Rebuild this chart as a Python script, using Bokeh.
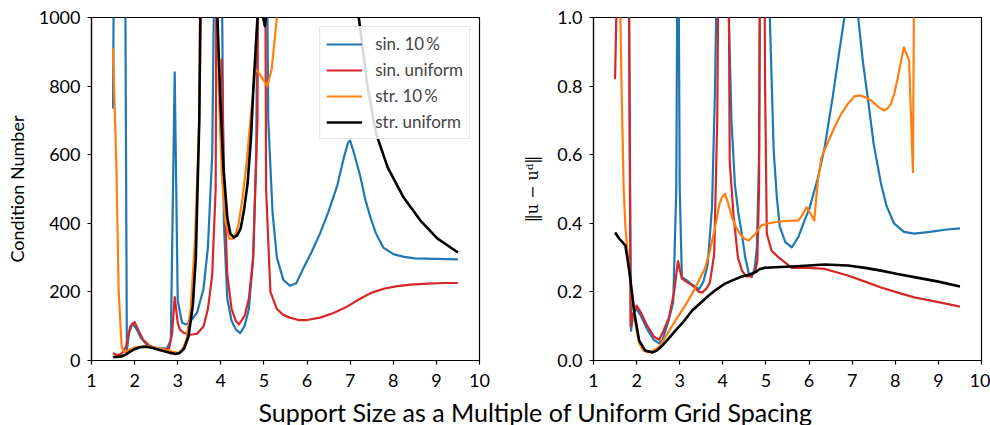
import numpy as np
from bokeh.plotting import figure
from bokeh.layouts import column, row
from bokeh.models import (Range1d, FixedTicker, PrintfTickFormatter, Legend,
                          LegendItem, Label)
from bokeh.embed import file_html
from bokeh.resources import INLINE

nan = float("nan")

# ---------------- data: condition number (left) ----------------
cn_sin10_x = [1.5, 1.6, 1.72, 1.82, 1.87, 1.95, 2.05, 2.15, 2.3, 2.5, 2.75, 2.84, 2.93, 3.0, 3.1,
              3.2, 3.3, 3.45, 3.6, 3.7, 3.8, 3.88, 3.95, 4.0, 4.07, 4.15, 4.25, 4.35, 4.45, 4.55,
              4.65, 4.75, 4.82, 4.88, 4.95, 5.05, 5.1, 5.2, 5.3, 5.45, 5.6, 5.75, 5.9, 6.1, 6.3,
              6.5, 6.7, 6.85, 6.95, 7.0, 7.1, 7.24, 7.35, 7.47, 7.6, 7.77, 8.0, 8.25, 8.5, 9.0, 9.5]
cn_sin10_y = [735, 3000, 3000, 30, 80, 108, 90, 65, 44, 36, 35, 60, 840, 175, 110,
              105, 115, 140, 210, 330, 600, 1500, 3000, 1500, 400, 180, 115, 90, 80, 100,
              150, 300, 600, 1500, 3000, 1500, 700, 430, 300, 235, 218, 225, 265, 315, 370,
              435, 510, 590, 635, 641, 600, 534, 470, 417, 370, 329, 310, 302, 298, 296, 295]

cn_sinu_x = [1.5, 1.6, 1.7, 1.8, 1.9, 2.0, 2.1, 2.2, 2.35, 2.5, 2.65, 2.8, 2.87, 2.93, 3.0,
             3.05, 3.15, 3.3, 3.45, 3.6, 3.7, 3.8, 3.88, 3.95, 3.98, 4.02, 4.08, 4.15, 4.25,
             4.35, 4.42, 4.55, 4.65, 4.75, 4.85, 4.92, 4.98, 5.05, 5.15, 5.3, 5.45, 5.6, 5.8,
             6.0, 6.3, 6.6, 6.9, 7.2, 7.5, 7.8, 8.1, 8.4, 8.8, 9.2, 9.5]
cn_sinu_y = [22, 15, 20, 40, 100, 112, 85, 60, 42, 35, 30, 35, 80, 185, 110,
             90, 80, 75, 78, 100, 150, 250, 500, 3000, nan, 880, 500, 250, 150,
             115, 105, 130, 180, 300, 700, 3000, 3000, 500, 200, 150, 133, 125, 118,
             118, 125, 138, 155, 178, 198, 210, 217, 221, 224, 226, 226]

cn_str10_x = [1.5, 1.58, 1.63, 1.7, 1.75, 1.8, 1.9, 2.0, 2.2, 2.4, 2.6, 2.8, 3.0, 3.1, 3.2,
              3.3, 3.4, 3.5, 3.6, 3.7, 3.8, 3.88, 3.95, 4.02, 4.1, 4.2, 4.3, 4.4, 4.5, 4.6,
              4.7, 4.8, 4.9, 5.0, 5.08, 5.18, 5.3, 5.5, 7.0, 9.5]
cn_str10_y = [910, 550, 200, 40, 25, 25, 32, 38, 42, 40, 35, 28, 22, 30, 60,
              150, 350, 700, 1500, 3000, 3000, 1500, 800, 550, 410, 355, 355, 390, 470, 580,
              720, 850, 835, 815, 800, 850, 1000, 1500, 2500, 2500]

cn_stru_x = [1.5, 1.6, 1.7, 1.8, 1.9, 2.0, 2.1, 2.25, 2.4, 2.6, 2.8, 2.95, 3.05, 3.15, 3.25,
             3.35, 3.42, 3.5, 3.56, 3.65, 3.8, 3.86, 3.92, 3.99, 4.06, 4.15, 4.22, 4.3, 4.38,
             4.46, 4.54, 4.62, 4.7, 4.76, 4.85, 4.95, 5.02, 5.08, 5.2, 6.0, 6.5, 7.0, 7.2,
             7.4, 7.6, 7.87, 8.24, 8.63, 9.02, 9.5]
cn_stru_y = [10, 10, 12, 18, 26, 33, 38, 40, 37, 30, 23, 19, 22, 35, 70,
             160, 300, 700, 1500, 3000, 3000, 1500, 1000, 758, 563, 417, 370, 359, 365,
             385, 440, 516, 650, 807, 1000, 1020, 975, 1030, 1300, 3000, 2500, 1300, 1000,
             800, 662, 563, 475, 408, 356, 315]

# ---------------- data: error norm (right) ----------------
er_sin10_x = [1.5, 1.8, 1.87, 1.93, 2.0, 2.1, 2.25, 2.4, 2.52, 2.6, 2.75, 2.85, 2.92, 2.96,
              3.0, 3.05, 3.15, 3.3, 3.45, 3.55, 3.65, 3.75, 3.82, 3.88, 4.0, 4.1, 4.2, 4.28,
              4.36, 4.44, 4.52, 4.6, 4.67, 4.74, 4.79, 4.84, 4.88, 5.0, 5.09, 5.18, 5.25, 5.32,
              5.45, 5.6, 5.75, 5.9, 6.0, 6.2, 6.36, 6.55, 6.7, 6.82, 7.0, 7.14, 7.25, 7.37,
              7.5, 7.67, 7.8, 7.97, 8.2, 8.44, 8.8, 9.2, 9.5]
er_sin10_y = [1.5, 1.5, 0.087, 0.14, 0.15, 0.13, 0.09, 0.06, 0.05, 0.06, 0.12, 0.17, 0.5, 1.5,
              0.5, 0.243, 0.235, 0.22, 0.208, 0.23, 0.28, 0.45, 0.8, 1.3, 1.5, 1.2, 0.7, 0.513,
              0.43, 0.37, 0.3, 0.255, 0.243, 0.27, 0.33, 0.6, 1.5, 1.5, 1.0, 0.61, 0.48, 0.39,
              0.345, 0.33, 0.36, 0.41, 0.44, 0.53, 0.62, 0.77, 0.9, 1.0, 1.1, 1.0, 0.87, 0.758,
              0.63, 0.515, 0.45, 0.4, 0.375, 0.37, 0.375, 0.382, 0.385]

er_sinu_x = [1.5, 1.56, 1.6, 1.75, 1.82, 1.86, 1.9, 2.0, 2.1, 2.25, 2.4, 2.52, 2.6, 2.75,
             2.87, 2.96, 3.05, 3.15, 3.29, 3.45, 3.52, 3.62, 3.7, 3.8, 3.87, 3.92, 4.12, 4.16,
             4.25, 4.35, 4.45, 4.55, 4.65, 4.75, 4.8, 4.84, 4.87, 4.95, 4.98, 5.02, 5.13, 5.3,
             5.6, 6.0, 6.36, 6.9, 7.3, 7.67, 8.0, 8.44, 9.0, 9.5]
er_sinu_y = [0.82, 1.2, 1.5, 1.5, 1.2, 0.1, 0.13, 0.16, 0.14, 0.1, 0.07, 0.06, 0.08, 0.125,
             0.2, 0.29, 0.239, 0.23, 0.219, 0.2, 0.198, 0.21, 0.227, 0.31, 0.7, 1.5, 1.5, 0.58,
             0.42, 0.3, 0.26, 0.245, 0.245, 0.26, 0.29, 0.5, 1.5, 1.5, 0.8, 0.37, 0.32, 0.3,
             0.27, 0.27, 0.267, 0.248, 0.23, 0.213, 0.2, 0.184, 0.17, 0.157]

er_str10_x = [1.5, 1.6, 1.65, 1.7, 1.74, 1.82, 1.9, 1.98, 2.06, 2.15, 2.25, 2.4, 2.52, 2.7,
              2.9, 3.1, 3.29, 3.45, 3.59, 3.7, 3.82, 3.92, 3.98, 4.05, 4.12, 4.21, 4.3, 4.4,
              4.5, 4.6, 4.68, 4.75, 4.9, 5.05, 5.2, 5.4, 5.6, 5.75, 5.85, 5.94, 6.03, 6.12,
              6.2, 6.29, 6.45, 6.59, 6.75, 6.9, 7.05, 7.17, 7.3, 7.44, 7.6, 7.74, 7.82, 7.9,
              7.98, 8.06, 8.2, 8.32, 8.41, 8.44, 8.6, 9.5]
er_str10_y = [1.5, 1.2, 0.8, 0.5, 0.388, 0.27, 0.175, 0.1, 0.05, 0.03, 0.024, 0.03, 0.039, 0.075,
              0.117, 0.155, 0.195, 0.235, 0.27, 0.32, 0.388, 0.455, 0.476, 0.486, 0.46, 0.418, 0.39, 0.369,
              0.355, 0.35, 0.36, 0.369, 0.394, 0.4, 0.403, 0.406, 0.408, 0.408, 0.425, 0.447, 0.43, 0.408,
              0.52, 0.593, 0.64, 0.68, 0.72, 0.748, 0.77, 0.773, 0.768, 0.758, 0.74, 0.729, 0.735, 0.748,
              0.78, 0.826, 0.913, 0.875, 0.549, 1.2, 1.5, 1.5]

er_stru_x = [1.5, 1.6, 1.67, 1.74, 1.83, 1.95, 2.06, 2.2, 2.36, 2.48, 2.6, 2.75, 2.9, 3.1,
             3.29, 3.5, 3.68, 3.85, 4.05, 4.25, 4.44, 4.6, 4.75, 4.85, 4.95, 5.2, 5.6, 6.0,
             6.36, 6.9, 7.3, 7.67, 8.05, 8.44, 9.0, 9.5]
er_stru_y = [0.373, 0.355, 0.345, 0.335, 0.262, 0.137, 0.058, 0.029, 0.023, 0.03, 0.044, 0.065, 0.087, 0.115,
             0.146, 0.17, 0.19, 0.207, 0.224, 0.235, 0.245, 0.25, 0.257, 0.266, 0.27, 0.272, 0.274, 0.277,
             0.28, 0.277, 0.27, 0.262, 0.252, 0.243, 0.23, 0.216]

legend_labels = ["sin. 10\u2009%", "sin. uniform", "str. 10\u2009%", "str. uniform"]
colors = ["#1f77b4", "#d62728", "#ff7f0e", "#000000"]
widths = [2.2, 2.2, 2.2, 2.6]
x_ticks = [1, 2, 3, 4, 5, 6, 7, 8, 9, 10]
cn_ticks = [0, 200, 400, 600, 800, 1000]
er_ticks = [0.0, 0.2, 0.4, 0.6, 0.8, 1.0]

FONT = "Lato"


def style(p, yticks):
    p.xgrid.visible = False
    p.ygrid.visible = False
    p.outline_line_color = "black"
    p.outline_line_width = 1.2
    p.xaxis.ticker = FixedTicker(ticks=x_ticks)
    p.yaxis.ticker = FixedTicker(ticks=yticks)
    for ax in (p.xaxis[0], p.yaxis[0]):
        ax.axis_line_color = "black"
        ax.axis_line_width = 1.2
        ax.major_tick_line_color = "black"
        ax.major_tick_line_width = 1.2
        ax.major_tick_in = 0
        ax.major_tick_out = 4
        ax.minor_tick_line_color = None
        ax.major_label_text_font = FONT
        ax.major_label_text_font_size = "18px"
        ax.major_label_text_color = "black"
        ax.major_label_standoff = 7
        ax.axis_label_text_font = FONT
        ax.axis_label_text_font_size = "18px"
        ax.axis_label_text_font_style = "normal"
        ax.axis_label_text_color = "black"
    p.xaxis.major_label_standoff = 9
    p.background_fill_color = "white"
    p.border_fill_color = "white"


# ---------------- left figure ----------------
p1 = figure(width=520, height=395, output_backend="svg", toolbar_location=None,
            x_range=Range1d(1, 10), y_range=Range1d(0, 1000),
            min_border_left=91, min_border_right=41, min_border_top=17, min_border_bottom=35)
style(p1, cn_ticks)
p1.yaxis.axis_label = "Condition Number"
p1.yaxis.axis_label_standoff = 8

cn_series = [(cn_sin10_x, cn_sin10_y), (cn_sinu_x, cn_sinu_y),
             (cn_str10_x, cn_str10_y), (cn_stru_x, cn_stru_y)]
items = []
for (xs, ys), c, w, lab in zip(cn_series, colors, widths, legend_labels):
    r = p1.line(xs, ys, line_color=c, line_width=w, line_join="round")
    items.append(LegendItem(label=lab, renderers=[r]))

legend = Legend(items=items, location="top_right", margin=9, padding=6,
                spacing=5, glyph_width=36, glyph_height=20, label_height=20,
                label_standoff=13, label_text_font=FONT, label_text_font_size="17px",
                border_line_color="#cccccc", border_line_width=1.2,
                background_fill_color="white", background_fill_alpha=0.85)
p1.add_layout(legend)

# ---------------- right figure ----------------
p2 = figure(width=470, height=395, output_backend="svg", toolbar_location=None,
            x_range=Range1d(1, 10), y_range=Range1d(0, 1.0),
            min_border_left=71, min_border_right=9, min_border_top=17, min_border_bottom=35)
style(p2, er_ticks)
p2.yaxis.formatter = PrintfTickFormatter(format="%.1f")
p2.yaxis.axis_label = "\u2016u \u2212 u\u1d48\u2016"
p2.yaxis.axis_label_text_font = "DejaVu Serif"
p2.yaxis.axis_label_text_font_size = "16px"
p2.yaxis.axis_label_standoff = 12

er_series = [(er_sin10_x, er_sin10_y), (er_sinu_x, er_sinu_y),
             (er_str10_x, er_str10_y), (er_stru_x, er_stru_y)]
for (xs, ys), c, w in zip(er_series, colors, widths):
    p2.line(xs, ys, line_color=c, line_width=w, line_join="round")

# ---------------- shared x label ----------------
p3 = figure(width=990, height=30, output_backend="svg", toolbar_location=None,
            x_range=Range1d(0, 990), y_range=Range1d(0, 30), title=None,
            min_border=0, x_axis_type=None, y_axis_type=None)
p3.xgrid.visible = False
p3.ygrid.visible = False
p3.outline_line_color = None
p3.add_layout(Label(x=535, y=14, x_units="screen", y_units="screen",
                    text="Support Size as a Multiple of Uniform Grid Spacing",
                    text_align="center", text_baseline="middle",
                    text_font=FONT, text_font_size="25px", text_color="black"))

layout = column(row(p1, p2, spacing=0), p3, spacing=0)
open("out.html", "w").write(file_html(layout, INLINE))
